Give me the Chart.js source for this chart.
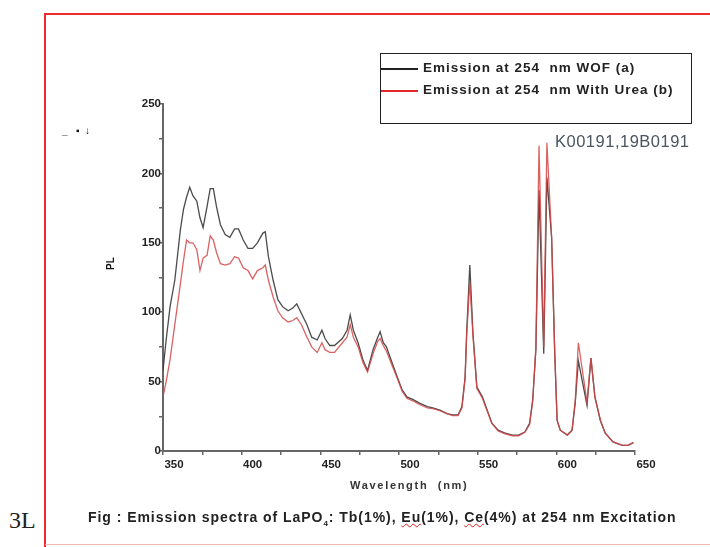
<!DOCTYPE html>
<html>
<head>
<meta charset="utf-8">
<script src="https://cdn.jsdelivr.net/npm/chart.js@4.4.0/dist/chart.umd.min.js"></script>
<style>
  body { margin:0; width:710px; height:547px; background:#fff; position:relative; overflow:hidden; font-family:"Liberation Sans", Arial, sans-serif; }
  #wrap { position:absolute; left:0; top:0; width:710px; height:547px; }
  .abs { position:absolute; white-space:nowrap; }
  .sq { text-decoration: underline wavy #e02020; text-decoration-thickness:1px; }
</style>
</head>
<body>
<!-- red page frame -->
<div class="abs" style="left:45px;top:13px;width:665px;height:2px;background:#ee2a2a"></div>
<div class="abs" style="left:44px;top:13px;width:2px;height:534px;background:#ee2a2a"></div>
<div class="abs" style="left:45px;top:544px;width:665px;height:1px;background:#f6b6b6"></div>
<div class="abs" style="left:9px;top:507px;font-family:'Liberation Serif',serif;font-size:24px;color:#222">3L</div>

<div id="wrap"><canvas id="myChart" width="710" height="547"></canvas></div>

<!-- legend box -->
<div class="abs" style="left:380px;top:53px;width:310px;height:69px;border:1.5px solid #222"></div>
<div class="abs" style="left:381px;top:68px;width:37px;height:1.5px;background:#222"></div>
<div class="abs" style="left:381px;top:90px;width:37px;height:1.5px;background:#e02a2a"></div>
<div class="abs" style="left:423px;top:60px;font-size:13.5px;font-weight:bold;color:#222;letter-spacing:1px">Emission at 254&nbsp; nm WOF (a)</div>
<div class="abs" style="left:423px;top:82px;font-size:13.5px;font-weight:bold;color:#222;letter-spacing:1px">Emission at 254&nbsp; nm With Urea (b)</div>

<div class="abs" style="left:555px;top:132px;font-size:16.5px;color:#4a5560;letter-spacing:0.5px">K00191,19B0191</div>
<div class="abs" style="left:62px;top:125px;font-size:10px;font-weight:bold;color:#111">_&nbsp;&nbsp; ▪ &nbsp;↓</div>
<div class="abs" style="left:104px;top:258px;font-size:10px;font-weight:bold;color:#111;transform:rotate(-90deg)">PL</div>
<div class="abs" style="left:350px;top:479px;font-size:11px;font-weight:bold;color:#333;letter-spacing:1.7px">Wavelength&nbsp; (nm)</div>
<div class="abs" style="left:88px;top:509px;font-size:14px;font-weight:bold;color:#222;letter-spacing:0.95px">Fig : Emission spectra of LaPO<sub style="font-size:8px">4</sub>: Tb(1%), <span class="sq">Eu</span>(1%), <span class="sq">Ce</span>(4%) at 254 nm Excitation</div>

<script>
// wavelength (nm) and PL values
const wavelengths = [350,352,354.5,357.5,361,363,365,367,369,371.5,373.5,375.5,378,380,382,384,386.5,389.5,392.5,395.5,398,401,404,407,410,413.5,415,417,420,423,426,429.5,432.5,435,438,441.5,444.5,448,451,453,456,459,464,467,469,471,474,477,480,483.5,486.5,488,490,492,495.5,499,502,505,509,513,518,521.5,526,530.5,534,537.5,540,542,543,545,547,549.5,553,556,559,563,567,572,576,580,583,585,587,589,592,594,597,599,600.5,602.5,607,610,612,614,619.5,622,624.5,628,631,636,642,645.5,649];
const plWof = [58,80,104,123,159,174,183,190,184,180,168,161,176,189,189,176,163,156,154,160,160,152,146,146,150,157,158,140,123,109,104,101,103,106,99,91,82,80,87,81,76,76,81,87,98,87,78,66,58,73,82,86,78,75,64,53,44,39,37,34.5,32,31,29.5,27,26,26,32,53,85,134,85,46,39,29.5,20,15,13,11.5,11.5,13.7,20,37,73,188,70,197,154,70,22,15,11.5,15,34.5,65,33,67,39,22,13,6.5,4,4,6];
const plUrea = [39,50,66,91,120,137,152,150,150,145,130,139,141,155,152,143,135,134,135,140,139,132,130,124,130,132,134,123,111,101,96,93,94,96,91,82,75,71,78,73,71,71,78,82,91,82,75,64,57,70,79,81,76,72,62,52,43,38,36,33.5,31,30.5,29,27,25.5,25.5,31,52,83,122,83,45,38,29,20,14.5,12.5,11,11,13.5,19,36,75,220,75,222,154,70,22,15,11.5,15,36,78,35,67,39,22,13,6.5,4,4,6];
const seriesNames = ["Emission at 254 nm WOF (a)", "Emission at 254 nm With Urea (b)"];

const toPts = arr => arr.map((v,i) => ({x: wavelengths[i], y: v}));

const axisColor = '#666';
const tickFont = {family:'Liberation Sans', size:11.5, weight:'bold'};

const ctx = document.getElementById('myChart');
const myChart = new Chart(ctx, {
  type: 'line',
  data: {
    datasets: [{
      label: seriesNames[0],
      data: toPts(plWof),
      borderColor: 'rgba(55,55,55,0.9)',
      borderWidth: 1.3,
      pointRadius: 0,
      tension: 0,
      order: 1
    },{
      label: seriesNames[1],
      data: toPts(plUrea),
      borderColor: 'rgba(212,70,70,0.85)',
      borderWidth: 1.3,
      pointRadius: 0,
      tension: 0,
      order: 0
    }]
  },
  options: {
    responsive: false,
    animation: false,
    layout: { padding: {left:0, top:104, right:75, bottom:0} },
    plugins: { legend: {display:false}, tooltip: {enabled:false} },
    scales: {
      x: {
        type: 'linear',
        min: 350, max: 650,
        afterFit: s => { s.height = 547 - 451; },
        border: {display:true, color:axisColor, width:2},
        grid: {drawOnChartArea:false, drawTicks:true, tickLength:4, color:axisColor, lineWidth:1.5},
        ticks: {
          stepSize: 25, autoSkip:false, maxRotation:0, padding:3, labelOffset:11,
          color:'#222', font:tickFont,
          callback: v => v % 50 === 0 ? v : ''
        }
      },
      y: {
        min: 0, max: 250,
        afterFit: s => { s.width = 163; },
        border: {display:true, color:axisColor, width:2},
        grid: {drawOnChartArea:false, drawTicks:true, tickLength:4, color:axisColor, lineWidth:1.5},
        ticks: {
          stepSize: 25, autoSkip:false, padding:-2,
          color:'#222', font:tickFont,
          callback: v => v % 50 === 0 ? v : ''
        }
      }
    }
  }
});
</script>
</body>
</html>
